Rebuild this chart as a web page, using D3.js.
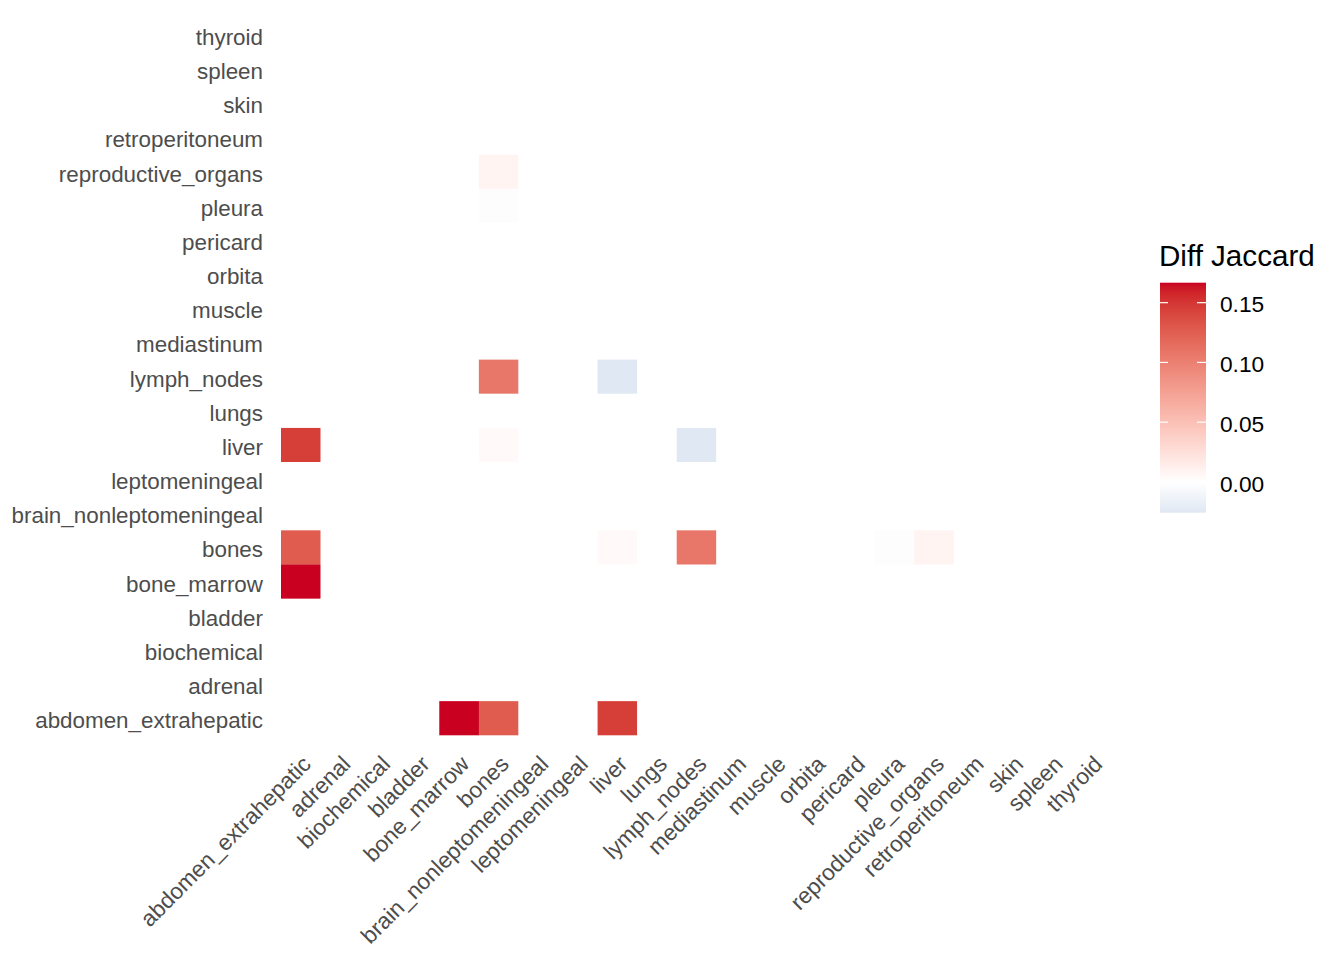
<!DOCTYPE html>
<html>
<head>
<meta charset="utf-8">
<script src="https://cdn.jsdelivr.net/npm/d3@7"></script>
<style>
  html, body { margin: 0; padding: 0; background: #ffffff; }
  svg { display: block; font-family: "Liberation Sans", Arial, sans-serif; }
</style>
</head>
<body>
<svg id="chart" width="1344" height="960"></svg>
<script>
// ---- data ----
const categories = ["abdomen_extrahepatic", "adrenal", "biochemical", "bladder", "bone_marrow",
  "bones", "brain_nonleptomeningeal", "leptomeningeal", "liver", "lungs", "lymph_nodes",
  "mediastinum", "muscle", "orbita", "pericard", "pleura", "reproductive_organs",
  "retroperitoneum", "skin", "spleen", "thyroid"];

// non-zero pairs (matrix is symmetric); all other cells are 0
const pairA = ["abdomen_extrahepatic", "abdomen_extrahepatic", "abdomen_extrahepatic", "bones", "liver", "bones", "bones", "bones"];
const pairB = ["bone_marrow", "liver", "bones", "lymph_nodes", "lymph_nodes", "liver", "reproductive_organs", "pleura"];
const pairValue = [0.1667, 0.146, 0.127, 0.107, -0.0257, 0.004, 0.009, -0.002];

const legendTicks = [0.00, 0.05, 0.10, 0.15];
const legendTitle = "Diff Jaccard";

// ---- build cell table ----
const cells = [];
categories.forEach(xc => categories.forEach(yc => cells.push({x: xc, y: yc, v: 0})));
const cellIndex = new Map(cells.map(c => [c.x + "|" + c.y, c]));
pairA.forEach((a, i) => {
  cellIndex.get(a + "|" + pairB[i]).v = pairValue[i];
  cellIndex.get(pairB[i] + "|" + a).v = pairValue[i];
});

const vmin = d3.min(cells, d => d.v);
const vmax = d3.max(cells, d => d.v);
const maxAbs = Math.max(Math.abs(vmin), Math.abs(vmax));
const highI = d3.interpolateLab("#ffffff", "#ca0020");
const lowI = d3.interpolateLab("#ffffff", "#0571b0");
const color = v => v >= 0 ? highI(v / maxAbs) : lowI(-v / maxAbs);

// ---- layout ----
const svg = d3.select("#chart");
const plot = {left: 281, right: 1112, top: 17.6, bottom: 735};

const x = d3.scaleBand().domain(categories).range([plot.left, plot.right]).padding(0);
const y = d3.scaleBand().domain(categories).range([plot.bottom, plot.top]).padding(0);

svg.append("g").selectAll("rect").data(cells).join("rect")
  .attr("x", d => x(d.x))
  .attr("y", d => y(d.y))
  .attr("width", x.bandwidth() + 0.3)
  .attr("height", y.bandwidth() + 0.3)
  .attr("fill", d => color(d.v));

// y axis
const yAxis = svg.append("g").attr("transform", `translate(${plot.left - 18},0)`)
  .call(d3.axisLeft(y).tickSize(0).tickPadding(0));
yAxis.select(".domain").remove();
yAxis.selectAll("text")
  .attr("fill", "#4d4d4d")
  .style("font-size", "22.4px")
  .attr("dy", "0.46em");

// x axis
const xAxis = svg.append("g").attr("transform", `translate(0,${plot.bottom + 19})`)
  .call(d3.axisBottom(x).tickSize(0).tickPadding(0));
xAxis.select(".domain").remove();
xAxis.selectAll("text")
  .attr("fill", "#4d4d4d")
  .style("font-size", "22.6px")
  .attr("text-anchor", "end")
  .attr("y", 0)
  .attr("dy", "0.72em")
  .attr("transform", "rotate(-45)");

// ---- legend ----
const bar = {x: 1160, w: 46, top: 282.7, bottom: 512.7};
const ls = d3.scaleLinear().domain([vmin, vmax]).range([bar.bottom, bar.top]);

const defs = svg.append("defs");
const grad = defs.append("linearGradient").attr("id", "lg")
  .attr("x1", "0").attr("y1", "1").attr("x2", "0").attr("y2", "0");
const stops = d3.range(0, 101).map(i => vmin + (vmax - vmin) * i / 100);
grad.selectAll("stop").data(stops).join("stop")
  .attr("offset", (d, i) => (i) + "%")
  .attr("stop-color", d => color(d));

svg.append("rect")
  .attr("x", bar.x).attr("y", bar.top)
  .attr("width", bar.w).attr("height", bar.bottom - bar.top)
  .attr("fill", "url(#lg)");

const lg = svg.append("g");
lg.selectAll("line.l").data(legendTicks).join("line")
  .attr("x1", bar.x).attr("x2", bar.x + 8)
  .attr("y1", d => ls(d)).attr("y2", d => ls(d))
  .attr("stroke", "#ffffff").attr("stroke-width", 1.2);
lg.selectAll("line.r").data(legendTicks).join("line")
  .attr("x1", bar.x + bar.w - 9).attr("x2", bar.x + bar.w)
  .attr("y1", d => ls(d)).attr("y2", d => ls(d))
  .attr("stroke", "#ffffff").attr("stroke-width", 1.2);
lg.selectAll("text").data(legendTicks).join("text")
  .attr("x", 1220)
  .attr("y", d => ls(d))
  .attr("dy", "0.42em")
  .style("font-size", "22.7px")
  .attr("fill", "#000000")
  .text(d => d3.format(".2f")(d));

svg.append("text")
  .attr("x", 1159).attr("y", 266)
  .style("font-size", "29.6px")
  .attr("fill", "#000000")
  .text(legendTitle);
</script>
</body>
</html>
